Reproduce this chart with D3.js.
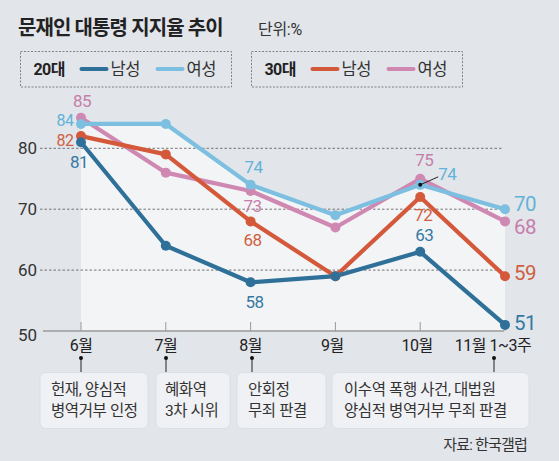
<!DOCTYPE html>
<html><head><meta charset="utf-8">
<script src="https://cdn.jsdelivr.net/npm/d3@7"></script>
<style>
html,body{margin:0;padding:0;background:#e2e5ea;}
svg{display:block;font-family:Roboto,"Noto Sans CJK KR",sans-serif;}
</style></head><body>
<svg id="c" width="559" height="461"></svg>
<script>
const months = ["6월","7월","8월","9월","10월","11월 1~3주"];
const m20 = [81,64,58,59,63,51];
const f20 = [84,84,74,69,74,70];
const m30 = [82,79,68,59,72,59];
const f30 = [85,76,73,67,75,68];
const yTicks = [50,60,70,80];
const events = [
  {lines:["헌재, 양심적","병역거부 인정"], m:0},
  {lines:["혜화역","3차 시위"], m:1},
  {lines:["안회정","무죄 판결"], m:2},
  {lines:["이수역 폭행 사건, 대법원","양심적 병역거부 무죄 판결"], m:5}
];

const series = [
  {key:"f30", vals:f30, color:"#cf88b2", text:"#c77dab"},
  {key:"f20", vals:f20, color:"#7cbfe0", text:"#63b2d9"},
  {key:"m30", vals:m30, color:"#d4583a", text:"#cf5f42"},
  {key:"m20", vals:m20, color:"#2f7099", text:"#3579a2"}
];

const svg = d3.select("#c");
const x = d3.scalePoint().domain(months).range([81,505]);
const y = d3.scaleLinear().domain([50,80]).range([331,148.3]);

// plot area fill (union of areas under each line)
const area = d3.area().x((d,i)=>x(months[i])).y0(y(50)).y1(d=>y(d));
series.forEach(s=>{
  svg.append("path").attr("d",area(s.vals)).attr("fill","#f3f4f6");
});

// gridlines
yTicks.filter(t=>t>50).forEach(t=>{
  svg.append("line").attr("x1",40).attr("x2",503).attr("y1",y(t)).attr("y2",y(t))
    .attr("stroke","#555").attr("stroke-width",0.8).attr("stroke-dasharray","2.5,2");
});
// baseline
svg.append("line").attr("x1",43).attr("x2",504).attr("y1",y(50)).attr("y2",y(50))
  .attr("stroke","#9a9a9a").attr("stroke-width",1.5);
// ticks
months.forEach(m=>{
  svg.append("line").attr("x1",x(m)).attr("x2",x(m)).attr("y1",y(50)-9).attr("y2",y(50))
    .attr("stroke","#999").attr("stroke-width",1);
});
// y labels
yTicks.forEach(t=>{
  svg.append("text").attr("x",37).attr("y",y(t)+(t===50?4:0)).attr("text-anchor","end")
    .attr("dominant-baseline","central").attr("font-size",17).attr("fill","#333").text(t);
});
// month labels
months.forEach((m,i)=>{
  const cx = i===5 ? x(m)-12 : (i>=3 ? x(m)-3 : x(m));
  svg.append("text").attr("x",cx).attr("y",345).attr("text-anchor","middle")
    .attr("dominant-baseline","central").attr("font-size",16).attr("fill","#222")
    .attr("letter-spacing",-0.5).text(m);
});

// lines & points
const line = d3.line().x((d,i)=>x(months[i])).y(d=>y(d));
series.forEach(s=>{
  svg.append("path").attr("d",line(s.vals)).attr("fill","none").attr("stroke",s.color)
    .attr("stroke-width",4.2).attr("stroke-linejoin","round");
});
series.forEach(s=>{
  svg.selectAll(null).data(s.vals).enter().append("circle")
    .attr("cx",(d,i)=>x(months[i])).attr("cy",d=>y(d)).attr("r",5).attr("fill",s.color);
});

// value labels
const S = Object.fromEntries(series.map(s=>[s.key,s]));
function lab(key,i,dx,dy,size,anchor){
  const s=S[key];
  svg.append("text").attr("x",x(months[i])+dx).attr("y",y(s.vals[i])+dy)
    .attr("text-anchor",anchor||"middle").attr("dominant-baseline","central")
    .attr("font-size",size||17).attr("fill",s.text).attr("letter-spacing",-0.5).text(s.vals[i]);
}
lab("f30",0,1,-17);
lab("f20",0,-16,-3,16);
lab("m30",0,-16,4,16);
lab("m20",0,-2,20);
lab("f20",2,3,-18);
lab("f30",2,2,15);
lab("m30",2,2,19);
lab("m20",2,4,20);
lab("f30",4,4,-19);
lab("m30",4,3,18);
lab("m20",4,4,-17);
// 74 at 10월 with leader
const p74x = x(months[4]), p74y = y(f20[4]);
svg.append("line").attr("x1",p74x).attr("y1",p74y).attr("x2",p74x+18).attr("y2",p74y-8)
  .attr("stroke","#222").attr("stroke-width",1);
svg.append("circle").attr("cx",p74x).attr("cy",p74y).attr("r",2).attr("fill","#111");
lab("f20",4,27,-11);
// right end labels
const endDy = {f20:-5.5,f30:6,m30:-3,m20:-2};
["f20","f30","m30","m20"].forEach(k=>{
  lab(k,5,9,endDy[k],20.5,"start");
});

// legend
function legend(x0,title,c1,c2){
  svg.append("rect").attr("x",x0).attr("y",51.5).attr("width",211).attr("height",35.5)
    .attr("fill","none").attr("stroke","#777").attr("stroke-width",0.9).attr("stroke-dasharray","2,1.5");
  svg.append("text").attr("x",x0+13).attr("y",69).attr("dominant-baseline","central")
    .attr("font-size",16).attr("font-weight",700).attr("fill","#222").attr("letter-spacing",-0.6).text(title);
  [[c1,61,"남성"],[c2,137,"여성"]].forEach(([c,off,t])=>{
    svg.append("line").attr("x1",x0+off).attr("x2",x0+off+25).attr("y1",69).attr("y2",69)
      .attr("stroke",c).attr("stroke-width",4).attr("stroke-linecap","round");
    svg.append("text").attr("x",x0+off+29).attr("y",69).attr("dominant-baseline","central")
      .attr("font-size",16.5).attr("fill","#333").attr("letter-spacing",-0.5).text(t);
  });
}
legend(20.5,"20대",S.m20.color,S.f20.color);
legend(251.5,"30대",S.m30.color,S.f30.color);

// title
svg.append("text").attr("x",18).attr("y",28).attr("dominant-baseline","central")
  .attr("font-size",20).attr("font-weight",700).attr("fill","#222").attr("letter-spacing",-0.9)
  .text("문재인 대통령 지지율 추이");
svg.append("text").attr("x",258).attr("y",29).attr("dominant-baseline","central")
  .attr("font-size",16).attr("fill","#333").attr("letter-spacing",-0.3).text("단위:%");

// event boxes
const boxes = [[40,148],[156,230],[237,326],[332,529]];
const pinX = [81,166,252,494];
const textX = [51,165,248,344];
events.forEach((e,i)=>{
  const [bx0,bx1]=boxes[i];
  svg.append("rect").attr("x",bx0).attr("y",372.5).attr("width",bx1-bx0).attr("height",56)
    .attr("rx",6).attr("fill","#f0f1f4").attr("stroke","#d9dce1").attr("stroke-width",0.8);
  svg.append("line").attr("x1",pinX[i]).attr("x2",pinX[i]).attr("y1",358).attr("y2",372)
    .attr("stroke","#222").attr("stroke-width",1);
  svg.append("circle").attr("cx",pinX[i]).attr("cy",358).attr("r",2).attr("fill","#111");
  e.lines.forEach((t,j)=>{
    svg.append("text").attr("x",textX[i]).attr("y",390+j*20.5).attr("dominant-baseline","central")
      .attr("font-size",15.5).attr("fill","#333").attr("letter-spacing",-0.4).text(t);
  });
});
// source
svg.append("text").attr("x",527).attr("y",445).attr("text-anchor","end").attr("dominant-baseline","central")
  .attr("font-size",15).attr("fill","#333").attr("letter-spacing",-0.8).text("자료: 한국갤럽");
</script>
</body></html>
